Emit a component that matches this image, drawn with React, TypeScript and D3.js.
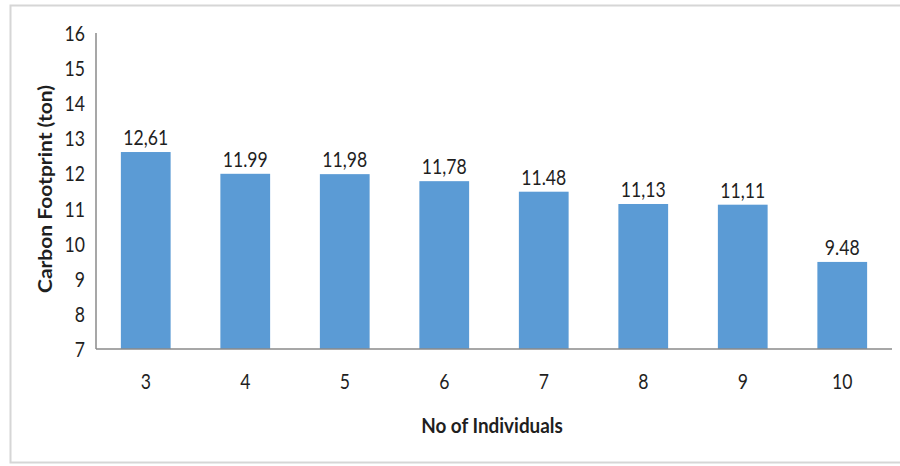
import React from "react";
import * as d3 from "d3";

// Household size vs. carbon footprint
const individuals = ["3", "4", "5", "6", "7", "8", "9", "10"];
const footprint = [12.61, 11.99, 11.98, 11.78, 11.48, 11.13, 11.11, 9.48];
const valueLabels = ["12,61", "11.99", "11,98", "11,78", "11.48", "11,13", "11,11", "9.48"];
const yTicks = [7, 8, 9, 10, 11, 12, 13, 14, 15, 16];

const W = 900;
const H = 466;
const FONT = "Lato, 'Open Sans', sans-serif";
const SX = 0.84; // condensed glyph width
const TEXT = "#1f1f1f";

export default function App() {
  const x = d3.scaleBand<string>().domain(individuals).range([96, 892]).paddingInner(0.5).paddingOuter(0.25);
  const y = d3.scaleLinear().domain([7, 16]).range([349, 33]);
  const [y0, y1] = y.range();

  return (
    <svg
      width={W}
      height={H}
      style={{ position: "absolute", left: 0, top: 0, background: "#fff" }}
      fontFamily={FONT}
    >
      <rect x={10.5} y={5.5} width={W} height={457} fill="#fff" stroke="#d6d6d6" strokeWidth={2} />

      {/* bars */}
      {individuals.map((c, i) => (
        <rect
          key={c}
          x={x(c)}
          y={y(footprint[i])}
          width={x.bandwidth()}
          height={y0 - y(footprint[i])}
          fill="#5b9bd5"
        />
      ))}

      {/* value labels */}
      {individuals.map((c, i) => (
        <text
          key={"v" + c}
          transform={`translate(${(x(c) ?? 0) + x.bandwidth() / 2},${y(footprint[i]) - 7}) scale(${SX},1)`}
          textAnchor="middle"
          fontSize={21}
          fill={TEXT}
        >
          {valueLabels[i]}
        </text>
      ))}

      {/* axes */}
      <line x1={96} x2={96} y1={y1} y2={y0} stroke="#8a8a8a" strokeWidth={1.5} />
      <line x1={96} x2={892} y1={y0} y2={y0} stroke="#8a8a8a" strokeWidth={1.5} />

      {yTicks.map((t) => (
        <text
          key={"y" + t}
          transform={`translate(85,${y(t) + 8}) scale(${SX},1)`}
          textAnchor="end"
          fontSize={21}
          fill={TEXT}
        >
          {t}
        </text>
      ))}

      {individuals.map((c) => (
        <text
          key={"x" + c}
          transform={`translate(${(x(c) ?? 0) + x.bandwidth() / 2},389) scale(${SX},1)`}
          textAnchor="middle"
          fontSize={21}
          fill={TEXT}
        >
          {c}
        </text>
      ))}

      {/* axis titles */}
      <text
        transform={`translate(492,433) scale(0.9,1)`}
        textAnchor="middle"
        fontSize={21}
        fontWeight={700}
        fill={TEXT}
      >
        No of Individuals
      </text>
      <text
        transform={`translate(52,189) scale(0.9,1) rotate(-90)`}
        textAnchor="middle"
        fontSize={21}
        fontWeight={700}
        fill={TEXT}
      >
        Carbon Footprint (ton)
      </text>
    </svg>
  );
}
